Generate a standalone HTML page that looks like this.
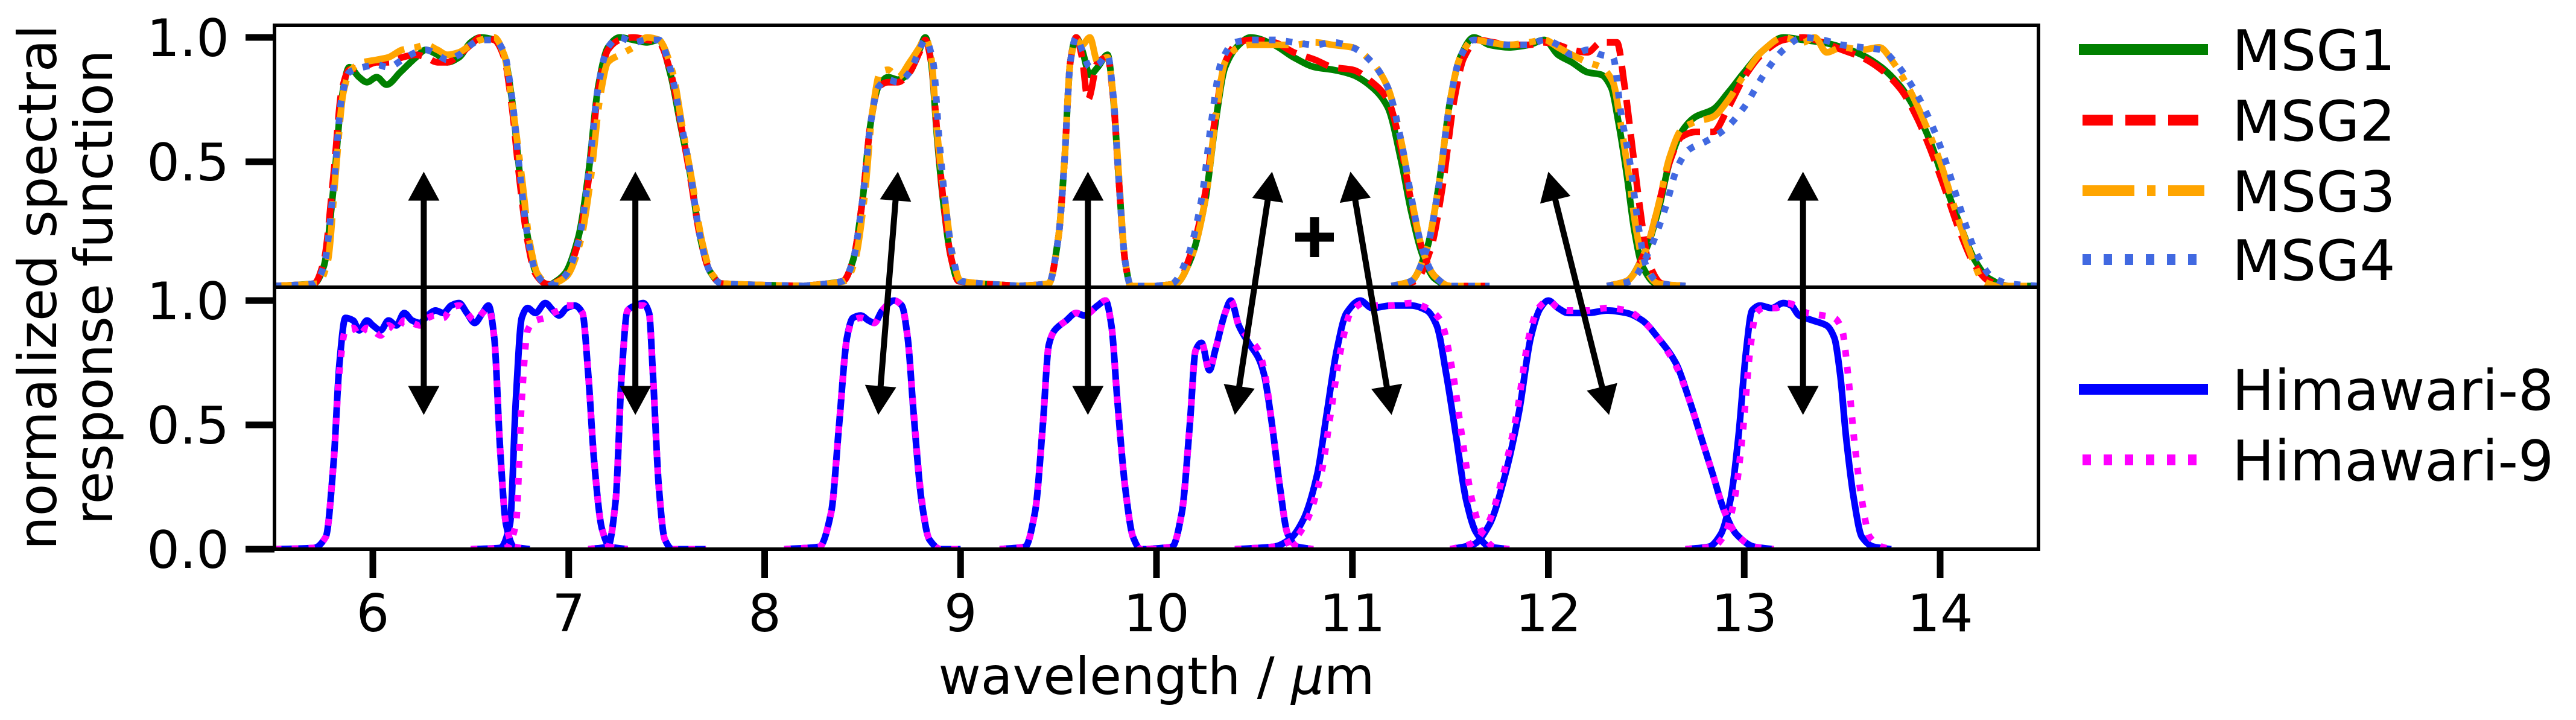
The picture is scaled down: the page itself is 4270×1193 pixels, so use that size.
<!DOCTYPE html>
<html><head><meta charset="utf-8"><style>
html,body{margin:0;padding:0;background:#fff;}
svg{display:block;font-family:"DejaVu Sans","Liberation Sans",sans-serif;}
</style></head><body>
<svg id="chart" width="4270" height="1193" viewBox="0 0 4270 1193" xmlns="http://www.w3.org/2000/svg">
<defs>
<clipPath id="clipTop"><rect x="455" y="42" width="2924" height="434"/></clipPath>
<clipPath id="clipBot"><rect x="455" y="476" width="2924" height="434"/></clipPath>
</defs>
<g id="topCurves" clip-path="url(#clipTop)"></g>
<g id="botCurves" clip-path="url(#clipBot)"></g>
<g id="arrows"></g>
<g stroke="#000" stroke-width="15">
<line x1="2147" y1="393" x2="2211" y2="393"/><line x1="2179" y1="360" x2="2179" y2="426"/>
</g>
<rect x="455" y="42" width="2924" height="434" fill="none" stroke="#000" stroke-width="6"/>
<rect x="455" y="476" width="2924" height="434" fill="none" stroke="#000" stroke-width="6"/>
<g id="axes"></g>
<text x="1917" y="1150" font-size="86" text-anchor="middle">wavelength / <tspan font-style="italic">μ</tspan>m</text>
<g font-size="88" text-anchor="middle">
<text transform="translate(93,476) rotate(-90)">normalized spectral</text>
<text transform="translate(186,476) rotate(-90)">response function</text>
</g>
<g id="legend"></g>
</svg>
<script>
const xTicks = [6,7,8,9,10,11,12,13,14];
const yTicksTop = [0.5,1.0];
const yTicksBot = [0.0,0.5,1.0];
const yTickLabelsTop = ["0.5","1.0"];
const yTickLabelsBot = ["0.0","0.5","1.0"];

const msg1 = [
 [[5.5,0],[5.7,0.01],[5.75,0.08],[5.8,0.4],[5.84,0.75],[5.88,0.88],[5.93,0.84],[5.97,0.82],[6.02,0.84],[6.07,0.81],[6.14,0.86],[6.22,0.92],[6.27,0.95],[6.33,0.93],[6.38,0.9],[6.44,0.92],[6.5,0.98],[6.55,1.0],[6.62,0.99],[6.67,0.93],[6.71,0.75],[6.75,0.45],[6.79,0.2],[6.83,0.06],[6.88,0.01],[6.95,0]],
 [[6.9,0],[6.98,0.05],[7.05,0.2],[7.1,0.45],[7.15,0.8],[7.2,0.96],[7.26,1.0],[7.33,0.99],[7.4,0.98],[7.46,0.99],[7.52,0.85],[7.57,0.65],[7.62,0.45],[7.67,0.2],[7.72,0.06],[7.78,0.01],[8.2,0]],
 [[8.2,0],[8.4,0.02],[8.45,0.1],[8.5,0.35],[8.54,0.65],[8.58,0.8],[8.63,0.84],[8.68,0.83],[8.74,0.86],[8.79,0.95],[8.82,1.0],[8.85,0.9],[8.88,0.6],[8.91,0.35],[8.95,0.12],[8.99,0.02],[9.3,0]],
 [[9.3,0],[9.45,0.01],[9.5,0.2],[9.53,0.5],[9.56,0.9],[9.59,1.0],[9.62,0.95],[9.66,0.85],[9.7,0.88],[9.75,0.93],[9.78,0.75],[9.81,0.4],[9.84,0.1],[9.87,0],[10.0,0]],
 [[10.0,0],[10.1,0.01],[10.18,0.12],[10.25,0.35],[10.3,0.65],[10.35,0.88],[10.42,0.97],[10.48,1.0],[10.6,0.97],[10.7,0.92],[10.81,0.88],[10.9,0.87],[11.0,0.85],[11.1,0.8],[11.18,0.72],[11.25,0.5],[11.3,0.3],[11.36,0.12],[11.42,0.03],[11.5,0],[11.7,0]],
 [[11.2,0],[11.3,0.02],[11.38,0.15],[11.44,0.4],[11.5,0.75],[11.55,0.92],[11.62,1.0],[11.7,0.97],[11.8,0.96],[11.9,0.97],[11.98,0.99],[12.05,0.93],[12.12,0.9],[12.2,0.86],[12.27,0.85],[12.32,0.8],[12.36,0.65],[12.4,0.45],[12.44,0.22],[12.48,0.08],[12.55,0.01],[12.7,0]],
 [[12.3,0],[12.4,0.02],[12.5,0.15],[12.56,0.3],[12.62,0.5],[12.68,0.62],[12.75,0.68],[12.84,0.71],[12.92,0.78],[13.0,0.86],[13.1,0.95],[13.2,1.0],[13.3,0.99],[13.4,0.98],[13.5,0.96],[13.6,0.93],[13.7,0.88],[13.8,0.8],[13.88,0.7],[13.95,0.58],[14.02,0.42],[14.1,0.25],[14.18,0.1],[14.25,0.03],[14.35,0],[14.5,0]]
];
const msg2 = [
 [[5.5,0],[5.7,0.01],[5.75,0.1],[5.8,0.45],[5.84,0.78],[5.88,0.87],[5.95,0.88],[6.02,0.9],[6.08,0.9],[6.15,0.92],[6.22,0.93],[6.27,0.92],[6.33,0.9],[6.38,0.9],[6.44,0.93],[6.5,0.97],[6.55,1.0],[6.62,0.99],[6.67,0.92],[6.71,0.72],[6.75,0.42],[6.79,0.18],[6.83,0.05],[6.88,0.01],[6.95,0]],
 [[6.9,0],[6.98,0.04],[7.05,0.18],[7.1,0.42],[7.15,0.78],[7.2,0.95],[7.26,0.99],[7.33,1.0],[7.4,0.99],[7.46,0.98],[7.52,0.86],[7.57,0.66],[7.62,0.44],[7.67,0.2],[7.72,0.06],[7.78,0.01],[8.2,0]],
 [[8.2,0],[8.4,0.02],[8.45,0.1],[8.5,0.35],[8.54,0.65],[8.58,0.8],[8.63,0.82],[8.68,0.82],[8.74,0.86],[8.79,0.94],[8.82,0.99],[8.85,0.9],[8.88,0.62],[8.91,0.36],[8.95,0.12],[8.99,0.02],[9.3,0]],
 [[9.3,0],[9.45,0.01],[9.5,0.2],[9.53,0.5],[9.56,0.9],[9.59,1.0],[9.62,0.92],[9.65,0.75],[9.7,0.9],[9.75,0.92],[9.78,0.75],[9.81,0.4],[9.84,0.1],[9.87,0],[10.0,0]],
 [[10.0,0],[10.1,0.01],[10.18,0.14],[10.25,0.38],[10.3,0.68],[10.35,0.9],[10.42,0.98],[10.48,0.99],[10.6,0.98],[10.7,0.94],[10.81,0.91],[10.9,0.88],[11.0,0.87],[11.1,0.82],[11.18,0.75],[11.25,0.55],[11.3,0.34],[11.36,0.14],[11.42,0.04],[11.5,0],[11.7,0]],
 [[11.2,0],[11.32,0.02],[11.4,0.15],[11.46,0.4],[11.52,0.75],[11.57,0.92],[11.64,0.99],[11.72,0.98],[11.8,0.97],[11.9,0.97],[11.98,0.98],[12.05,0.97],[12.12,0.95],[12.2,0.94],[12.27,0.98],[12.35,0.98],[12.39,0.8],[12.43,0.55],[12.47,0.3],[12.51,0.1],[12.58,0.01],[12.7,0]],
 [[12.3,0],[12.4,0.02],[12.5,0.15],[12.56,0.32],[12.62,0.5],[12.68,0.6],[12.75,0.62],[12.84,0.62],[12.92,0.72],[13.0,0.84],[13.1,0.94],[13.2,0.99],[13.3,1.0],[13.4,0.98],[13.5,0.95],[13.6,0.92],[13.7,0.87],[13.8,0.79],[13.88,0.68],[13.95,0.55],[14.02,0.4],[14.1,0.22],[14.18,0.08],[14.25,0.02],[14.35,0],[14.5,0]]
];
const msg3 = [
 [[5.5,0],[5.72,0.01],[5.77,0.1],[5.81,0.45],[5.85,0.78],[5.89,0.87],[5.95,0.9],[6.02,0.91],[6.08,0.92],[6.15,0.95],[6.22,0.96],[6.27,0.97],[6.33,0.95],[6.38,0.93],[6.44,0.94],[6.5,0.97],[6.55,0.99],[6.62,1.0],[6.67,0.93],[6.71,0.74],[6.76,0.44],[6.8,0.18],[6.84,0.05],[6.89,0.01],[6.95,0]],
 [[6.9,0],[6.99,0.04],[7.06,0.18],[7.11,0.42],[7.16,0.76],[7.2,0.9],[7.26,0.93],[7.33,0.96],[7.4,1.0],[7.46,0.99],[7.53,0.86],[7.58,0.64],[7.63,0.42],[7.68,0.18],[7.73,0.05],[7.79,0.01],[8.2,0]],
 [[8.2,0],[8.41,0.02],[8.46,0.1],[8.51,0.36],[8.55,0.7],[8.59,0.86],[8.63,0.87],[8.68,0.84],[8.74,0.9],[8.79,0.96],[8.82,1.0],[8.85,0.92],[8.88,0.62],[8.92,0.35],[8.96,0.12],[9.0,0.02],[9.3,0]],
 [[9.3,0],[9.45,0.01],[9.5,0.2],[9.53,0.5],[9.56,0.9],[9.59,0.99],[9.62,0.97],[9.66,1.0],[9.7,0.9],[9.75,0.92],[9.78,0.76],[9.81,0.42],[9.84,0.1],[9.87,0],[10.0,0]],
 [[10.0,0],[10.1,0.01],[10.18,0.12],[10.25,0.35],[10.3,0.66],[10.35,0.9],[10.42,0.96],[10.48,0.97],[10.6,0.97],[10.7,0.97],[10.81,0.98],[10.9,0.97],[11.0,0.96],[11.1,0.9],[11.18,0.8],[11.25,0.58],[11.3,0.36],[11.36,0.14],[11.42,0.04],[11.5,0],[11.7,0]],
 [[11.2,0],[11.3,0.02],[11.38,0.15],[11.44,0.4],[11.5,0.75],[11.55,0.92],[11.62,0.99],[11.7,0.98],[11.8,0.97],[11.9,0.98],[11.98,0.99],[12.05,0.96],[12.12,0.93],[12.2,0.9],[12.27,0.88],[12.33,0.82],[12.37,0.65],[12.41,0.45],[12.45,0.22],[12.49,0.08],[12.56,0.01],[12.7,0]],
 [[12.3,0],[12.4,0.02],[12.5,0.15],[12.56,0.32],[12.62,0.52],[12.68,0.63],[12.75,0.66],[12.84,0.68],[12.92,0.75],[13.0,0.85],[13.1,0.95],[13.2,1.0],[13.3,0.98],[13.36,1.0],[13.42,0.94],[13.5,0.96],[13.6,0.95],[13.69,0.96],[13.76,0.9],[13.85,0.78],[13.92,0.66],[14.0,0.5],[14.08,0.3],[14.16,0.12],[14.22,0.02],[14.3,0],[14.5,0]]
];
const msg4 = [
 [[5.5,0],[5.7,0.01],[5.75,0.08],[5.8,0.4],[5.84,0.75],[5.88,0.86],[5.95,0.88],[6.02,0.89],[6.08,0.88],[6.15,0.91],[6.22,0.94],[6.27,0.95],[6.33,0.93],[6.38,0.91],[6.44,0.93],[6.5,0.97],[6.55,0.99],[6.62,0.99],[6.67,0.94],[6.71,0.76],[6.75,0.46],[6.79,0.2],[6.83,0.06],[6.88,0.01],[6.95,0]],
 [[6.9,0],[6.98,0.04],[7.05,0.18],[7.1,0.44],[7.15,0.8],[7.2,0.96],[7.26,1.0],[7.33,0.98],[7.4,0.99],[7.46,0.99],[7.52,0.87],[7.57,0.67],[7.62,0.46],[7.67,0.2],[7.72,0.06],[7.78,0.01],[8.2,0]],
 [[8.2,0],[8.4,0.02],[8.45,0.1],[8.5,0.35],[8.54,0.65],[8.58,0.8],[8.63,0.83],[8.68,0.82],[8.74,0.86],[8.79,0.95],[8.82,0.99],[8.86,0.9],[8.89,0.6],[8.92,0.35],[8.96,0.12],[9.0,0.02],[9.3,0]],
 [[9.3,0],[9.45,0.01],[9.5,0.2],[9.53,0.5],[9.56,0.9],[9.59,1.0],[9.62,0.95],[9.66,0.88],[9.7,0.89],[9.75,0.93],[9.78,0.76],[9.81,0.4],[9.84,0.1],[9.87,0],[10.0,0]],
 [[10.0,0],[10.08,0.01],[10.16,0.12],[10.23,0.35],[10.28,0.66],[10.33,0.9],[10.4,0.98],[10.48,0.99],[10.6,0.99],[10.7,0.98],[10.81,0.97],[10.9,0.98],[11.0,0.96],[11.1,0.9],[11.18,0.8],[11.25,0.58],[11.3,0.36],[11.36,0.14],[11.42,0.04],[11.5,0],[11.7,0]],
 [[11.2,0],[11.3,0.02],[11.38,0.15],[11.44,0.4],[11.5,0.75],[11.55,0.92],[11.62,0.99],[11.7,0.98],[11.8,0.97],[11.9,0.97],[11.98,0.99],[12.05,0.97],[12.12,0.93],[12.2,0.95],[12.27,0.93],[12.33,0.92],[12.37,0.7],[12.42,0.48],[12.46,0.24],[12.5,0.08],[12.57,0.01],[12.7,0]],
 [[12.3,0],[12.42,0.02],[12.52,0.15],[12.6,0.32],[12.66,0.48],[12.72,0.55],[12.8,0.58],[12.9,0.63],[13.0,0.72],[13.1,0.85],[13.2,0.95],[13.3,1.0],[13.4,0.99],[13.5,0.97],[13.6,0.96],[13.7,0.95],[13.77,0.9],[13.86,0.8],[13.94,0.68],[14.02,0.52],[14.1,0.32],[14.18,0.14],[14.26,0.04],[14.35,0.01],[14.5,0]]
];
const him8 = [
 [[5.5,0],[5.7,0.005],[5.76,0.05],[5.8,0.35],[5.83,0.75],[5.86,0.93],[5.9,0.92],[5.93,0.88],[5.97,0.92],[6.0,0.9],[6.04,0.88],[6.08,0.92],[6.12,0.9],[6.16,0.95],[6.2,0.92],[6.24,0.91],[6.28,0.94],[6.32,0.96],[6.36,0.95],[6.4,0.98],[6.44,0.99],[6.48,0.95],[6.52,0.91],[6.56,0.95],[6.59,0.98],[6.62,0.85],[6.65,0.4],[6.68,0.1],[6.72,0.01],[6.8,0]],
 [[6.5,0],[6.65,0.005],[6.7,0.1],[6.73,0.6],[6.76,0.93],[6.79,0.97],[6.83,0.95],[6.88,0.99],[6.92,0.96],[6.95,0.94],[6.99,0.97],[7.03,0.98],[7.07,0.95],[7.1,0.7],[7.13,0.35],[7.17,0.08],[7.21,0.01],[7.3,0]],
 [[7.1,0],[7.2,0.01],[7.24,0.2],[7.27,0.7],[7.3,0.96],[7.34,0.98],[7.38,0.99],[7.41,0.95],[7.43,0.7],[7.46,0.25],[7.49,0.04],[7.53,0],[7.7,0]],
 [[8.1,0],[8.28,0.01],[8.34,0.15],[8.38,0.5],[8.42,0.85],[8.45,0.93],[8.49,0.94],[8.53,0.92],[8.56,0.91],[8.6,0.96],[8.66,1.0],[8.7,0.98],[8.73,0.85],[8.76,0.55],[8.8,0.2],[8.84,0.04],[8.9,0],[9.0,0]],
 [[9.2,0],[9.33,0.01],[9.38,0.15],[9.42,0.5],[9.45,0.82],[9.48,0.88],[9.54,0.92],[9.59,0.95],[9.63,0.94],[9.7,0.98],[9.74,1.0],[9.77,0.9],[9.8,0.6],[9.84,0.25],[9.88,0.05],[9.92,0],[10.0,0]],
 [[9.95,0],[10.08,0.01],[10.13,0.15],[10.17,0.5],[10.2,0.8],[10.23,0.83],[10.27,0.72],[10.3,0.8],[10.35,0.95],[10.38,1.0],[10.42,0.9],[10.47,0.83],[10.52,0.77],[10.55,0.7],[10.59,0.5],[10.63,0.25],[10.67,0.06],[10.72,0.01],[10.8,0]],
 [[10.4,0],[10.6,0.01],[10.68,0.04],[10.75,0.12],[10.82,0.3],[10.87,0.55],[10.92,0.8],[10.97,0.95],[11.04,1.0],[11.1,0.97],[11.2,0.98],[11.3,0.98],[11.38,0.96],[11.43,0.9],[11.48,0.7],[11.53,0.45],[11.58,0.2],[11.63,0.07],[11.7,0.01],[11.8,0]],
 [[11.5,0],[11.62,0.02],[11.7,0.1],[11.78,0.3],[11.85,0.55],[11.91,0.85],[11.96,0.97],[12.0,1.0],[12.05,0.97],[12.1,0.95],[12.2,0.95],[12.3,0.96],[12.4,0.95],[12.48,0.92],[12.56,0.85],[12.65,0.75],[12.72,0.6],[12.78,0.45],[12.84,0.3],[12.9,0.15],[12.96,0.06],[13.05,0.01],[13.15,0]],
 [[12.7,0],[12.82,0.01],[12.88,0.06],[12.93,0.2],[12.97,0.45],[13.01,0.8],[13.04,0.96],[13.08,0.98],[13.14,0.97],[13.2,0.99],[13.24,0.98],[13.28,0.94],[13.35,0.92],[13.42,0.9],[13.46,0.85],[13.49,0.7],[13.52,0.45],[13.56,0.2],[13.6,0.05],[13.66,0.01],[13.75,0]]
];
const him9 = [
 [[5.5,0],[5.7,0.005],[5.76,0.05],[5.8,0.35],[5.83,0.72],[5.86,0.88],[5.9,0.89],[5.93,0.86],[5.97,0.89],[6.0,0.88],[6.04,0.86],[6.08,0.9],[6.12,0.88],[6.16,0.92],[6.2,0.91],[6.24,0.9],[6.28,0.93],[6.32,0.94],[6.36,0.93],[6.4,0.97],[6.44,0.98],[6.48,0.95],[6.52,0.92],[6.56,0.95],[6.59,0.97],[6.62,0.85],[6.65,0.4],[6.68,0.1],[6.72,0.01],[6.8,0]],
 [[6.5,0],[6.68,0.005],[6.73,0.1],[6.76,0.6],[6.79,0.88],[6.83,0.92],[6.88,0.93],[6.92,0.95],[6.95,0.96],[6.99,0.98],[7.03,0.98],[7.07,0.95],[7.1,0.7],[7.13,0.35],[7.17,0.08],[7.21,0.01],[7.3,0]],
 [[7.1,0],[7.2,0.01],[7.24,0.2],[7.27,0.7],[7.3,0.96],[7.34,0.98],[7.38,0.98],[7.41,0.95],[7.43,0.7],[7.46,0.25],[7.49,0.04],[7.53,0],[7.7,0]],
 [[8.1,0],[8.28,0.01],[8.34,0.15],[8.38,0.5],[8.42,0.85],[8.45,0.92],[8.49,0.93],[8.53,0.92],[8.56,0.91],[8.6,0.96],[8.66,1.0],[8.7,0.98],[8.73,0.85],[8.76,0.56],[8.8,0.21],[8.84,0.04],[8.9,0],[9.0,0]],
 [[9.2,0],[9.33,0.01],[9.38,0.15],[9.42,0.5],[9.45,0.82],[9.48,0.88],[9.54,0.92],[9.59,0.95],[9.63,0.94],[9.7,0.98],[9.74,1.0],[9.77,0.9],[9.8,0.6],[9.84,0.25],[9.88,0.05],[9.92,0],[10.0,0]],
 [[9.95,0],[10.08,0.01],[10.13,0.15],[10.17,0.5],[10.2,0.8],[10.23,0.83],[10.27,0.72],[10.3,0.8],[10.35,0.95],[10.38,1.0],[10.42,0.9],[10.47,0.85],[10.52,0.8],[10.55,0.72],[10.59,0.5],[10.63,0.25],[10.67,0.06],[10.72,0.01],[10.8,0]],
 [[10.4,0],[10.6,0.01],[10.7,0.04],[10.77,0.12],[10.84,0.3],[10.89,0.55],[10.94,0.8],[10.99,0.95],[11.06,0.99],[11.12,0.98],[11.2,0.98],[11.3,0.99],[11.38,0.97],[11.45,0.92],[11.51,0.72],[11.56,0.45],[11.61,0.2],[11.66,0.07],[11.72,0.01],[11.8,0]],
 [[11.5,0],[11.6,0.02],[11.69,0.1],[11.77,0.3],[11.84,0.55],[11.9,0.85],[11.95,0.97],[12.0,1.0],[12.05,0.97],[12.1,0.96],[12.2,0.96],[12.3,0.97],[12.4,0.96],[12.48,0.92],[12.56,0.85],[12.65,0.74],[12.72,0.6],[12.78,0.45],[12.84,0.3],[12.9,0.15],[12.96,0.06],[13.05,0.01],[13.15,0]],
 [[12.7,0],[12.84,0.01],[12.9,0.06],[12.95,0.2],[12.99,0.45],[13.03,0.8],[13.06,0.95],[13.1,0.97],[13.16,0.97],[13.22,0.99],[13.26,0.98],[13.32,0.95],[13.4,0.94],[13.46,0.93],[13.5,0.88],[13.53,0.7],[13.56,0.45],[13.6,0.2],[13.64,0.05],[13.7,0.01],[13.75,0]]
];
const arrowTopX = [6.26,7.34,8.68,9.65,10.59,10.99,12.0,13.30];
const arrowBotX = [6.26,7.34,8.58,9.65,10.40,11.20,12.31,13.30];
const arrowTopVal = 0.46;
const arrowBotVal = 0.54;

const NS = "http://www.w3.org/2000/svg";
const XPX = 324.75;
const xs = v => 618 + (v - 6) * XPX;
const yTop = v => 474 - v * 412;
const yBot = v => 910 - v * 412;

function mk(tag, attrs, parent) {
  const e = document.createElementNS(NS, tag);
  for (const k in attrs) e.setAttribute(k, attrs[k]);
  parent.appendChild(e);
  return e;
}
function monoPath(pts, ys) {
  const n = pts.length;
  const X = pts.map(p => xs(p[0])), Y = pts.map(p => ys(p[1]));
  const d = [], m = [];
  for (let i = 0; i < n - 1; i++) d.push((Y[i+1]-Y[i]) / (X[i+1]-X[i]));
  m[0] = d[0]; m[n-1] = d[n-2];
  for (let i = 1; i < n - 1; i++) {
    if (d[i-1] * d[i] <= 0) m[i] = 0;
    else m[i] = 2 / (1/d[i-1] + 1/d[i]);
  }
  let s = "M" + X[0].toFixed(1) + "," + Y[0].toFixed(1);
  for (let i = 0; i < n - 1; i++) {
    const h = (X[i+1]-X[i]) / 3;
    s += "C" + (X[i]+h).toFixed(1) + "," + (Y[i]+m[i]*h).toFixed(1) + " " +
         (X[i+1]-h).toFixed(1) + "," + (Y[i+1]-m[i+1]*h).toFixed(1) + " " +
         X[i+1].toFixed(1) + "," + Y[i+1].toFixed(1);
  }
  return s;
}
const styles = {
  msg1: {c:"#008000", dash:null},
  msg2: {c:"#ff0000", dash:"40,17"},
  msg3: {c:"#ffa500", dash:"70,17,11,17"},
  msg4: {c:"#4169e1", dash:"11,17"},
  him8: {c:"#0000ff", dash:null},
  him9: {c:"#ff00ff", dash:"11,17"}
};
function drawSeries(name, bands, ys, parent) {
  const g = mk("g", {}, parent);
  
  
  bands.forEach((b, i) => {
    const st = styles[name];
    const a = {d: monoPath(b, ys), fill:"none", stroke: st.c, "stroke-width": 11, "stroke-linejoin":"round"};
    if (st.dash) a["stroke-dasharray"] = st.dash;
    const p = mk("path", a, g);
    
    
  });
}
const topG = document.getElementById("topCurves");
const botG = document.getElementById("botCurves");
drawSeries("msg1", msg1, yTop, topG);
drawSeries("msg2", msg2, yTop, topG);
drawSeries("msg3", msg3, yTop, topG);
drawSeries("msg4", msg4, yTop, topG);
drawSeries("him8", him8, yBot, botG);
drawSeries("him9", him9, yBot, botG);

const ag = document.getElementById("arrows");
arrowTopX.forEach((tx, i) => {
  const x1 = xs(tx), y1 = yTop(arrowTopVal), x2 = xs(arrowBotX[i]), y2 = yBot(arrowBotVal);
  const g = mk("g", {}, ag);
  
  
  const dx = x2 - x1, dy = y2 - y1, L = Math.hypot(dx, dy);
  const ux = dx / L, uy = dy / L, px = -uy, py = ux;
  const hl = 48, hw = 26;
  mk("line", {x1: x1 + ux*hl*0.9, y1: y1 + uy*hl*0.9, x2: x2 - ux*hl*0.9, y2: y2 - uy*hl*0.9, stroke:"#000", "stroke-width":10}, g);
  const head = (tx0, ty0, sx, sy) => {
    const bx = tx0 + sx*hl, by = ty0 + sy*hl;
    return `${tx0},${ty0} ${bx+px*hw},${by+py*hw} ${bx-px*hw},${by-py*hw}`;
  };
  mk("polygon", {points: head(x1, y1, ux, uy), fill:"#000"}, g);
  mk("polygon", {points: head(x2, y2, -ux, -uy), fill:"#000"}, g);
});

const ax = document.getElementById("axes");
xTicks.forEach(t => {
  const x = xs(t);
  const l = mk("line", {x1:x, y1:910, x2:x, y2:958, stroke:"#000", "stroke-width":11}, ax);
  
  
  const tx = mk("text", {x:x, y:1046, "font-size":86, "text-anchor":"middle"}, ax);
  
  
  tx.textContent = String(t);
});
function yTicksDraw(ticks, labels, ys, panel) {
  ticks.forEach((t, i) => {
    const y = ys(t);
    const l = mk("line", {x1:407, y1:y, x2:455, y2:y, stroke:"#000", "stroke-width":11}, ax);
    
    
    const tx = mk("text", {x:380, y:y + 31, "font-size":86, "text-anchor":"end"}, ax);
    
    
    tx.textContent = labels[i];
  });
}
yTicksDraw(yTicksTop, yTickLabelsTop, yTop, "top");
yTicksDraw(yTicksBot, yTickLabelsBot, yBot, "bottom");

const legendNames = ["MSG1","MSG2","MSG3","MSG4","Himawari-8","Himawari-9"];
const legendKeys = ["msg1","msg2","msg3","msg4","him8","him9"];
const legendY = [82,199,316,430,645,762];
const legendDash = {msg2:"50,21", msg3:"86,21,14,21", msg4:"14,21", him9:"14,21"};
const lg = document.getElementById("legend");
legendNames.forEach((nm, i) => {
  const g = mk("g", {}, lg);
  
  
  const a = {x1:3446, y1:legendY[i], x2:3660, y2:legendY[i], stroke:styles[legendKeys[i]].c, "stroke-width":18};
  if (legendDash[legendKeys[i]]) { a["stroke-dasharray"] = legendDash[legendKeys[i]]; a.x1 = 3452; a.x2 = 3654; }
  mk("line", a, g);
  const t = mk("text", {x:3700, y:legendY[i] + 34, "font-size":93}, g);
  t.textContent = nm;
});
</script>
</body></html>
